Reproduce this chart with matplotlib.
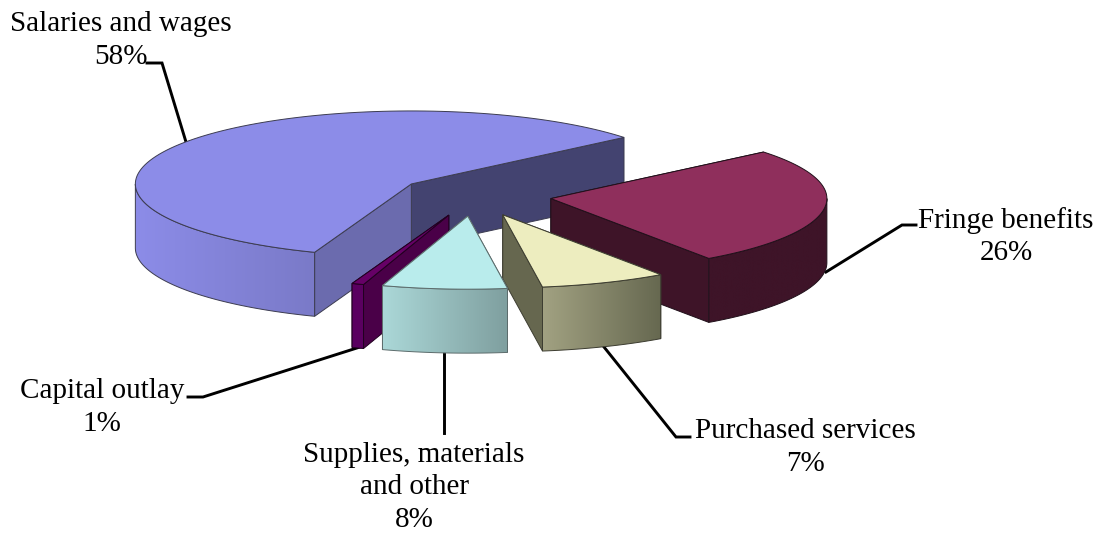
import numpy as np
import matplotlib
matplotlib.use('Agg')
import matplotlib.pyplot as plt
from matplotlib.colors import LinearSegmentedColormap
from matplotlib.patches import Polygon

plt.rcParams['font.family'] = ['Liberation Serif', 'DejaVu Serif']

# budget shares, counter clockwise from the back right corner
categories = ['Salaries and wages', 'Capital outlay', 'Supplies, materials\nand other',
              'Purchased services', 'Fringe benefits']
labels_pct = [58, 1, 8, 7, 26]
# slice sizes, the printed labels are rounded
shares = [58.3, 0.7, 7.3, 7.4, 26.3]

top_colors = ['#8c8ce8', '#660066', '#b9ecec', '#ededbf', '#8f2f5c']
wall_left = ['#8c8ce8', '#5a0060', '#abd8d8', '#a2a282', '#3e1428']
wall_right = ['#7a7ac8', '#5a0060', '#7f9f9f', '#666850', '#3e1428']
face_colors = ['#6b6bae', '#4a0048', '#7f9f9f', '#66674f', '#3e1428']
back_colors = ['#434370', '#4a0048', '#7f9f9f', '#66674f', '#3e1428']
wall_edges = ['#3c3c50', '#20001f', '#5c6c6c', '#3c3c30', '#20101a']

# pie geometry in pixels
cx, cy = 474.3, 195.8
rx, ry = 276, 73
depth = 64
explode = 0.28
start = 39.6


def rim(x0, y0, a1, a2, n=120):
    t = np.radians(np.linspace(a1, a2, n))
    return x0 + rx * np.cos(t), y0 - ry * np.sin(t)


def extrude(xs, ys):
    return np.column_stack([np.r_[xs, xs[::-1]], np.r_[ys, ys[::-1] + depth]])


fig = plt.figure(figsize=(11.07, 5.34), dpi=100)
ax = fig.add_axes([0, 0, 1, 1])
ax.axis('off')

bounds = start + np.r_[0, np.cumsum(shares)] * 3.6

# paint from back to front
for z, i in enumerate([0, 4, 3, 1, 2]):
    z = 10 + z
    a1, a2 = bounds[i], bounds[i + 1]
    mid = np.radians((a1 + a2) / 2)
    x0 = cx + explode * rx * np.cos(mid)
    y0 = cy - explode * ry * np.sin(mid)
    xs, ys = rim(x0, y0, a1, a2)

    # the two cut faces, further one first
    faces = [(xs[0], ys[0], back_colors[i]), (xs[-1], ys[-1], face_colors[i])]
    faces.sort(key=lambda f: f[1])
    for fx, fy, col in faces:
        ax.add_patch(Polygon(extrude(np.array([x0, fx]), np.array([y0, fy])),
                             facecolor=col, edgecolor=wall_edges[i], lw=0.7, zorder=z))

    # outer wall, only the part facing the viewer
    w1, w2 = max(a1, 180), min(a2, 360)
    wx, wy = rim(x0, y0, w1, w2)
    outline = Polygon(extrude(wx, wy), facecolor='none', edgecolor=wall_edges[i], lw=0.7, zorder=z + 0.2)
    ax.add_patch(outline)
    cmap = LinearSegmentedColormap.from_list('wall', [wall_left[i], wall_right[i]])
    grad = np.linspace(0, 1, 256).reshape(1, -1)
    im = ax.imshow(grad, cmap=cmap, aspect='auto', zorder=z + 0.1,
                   extent=[wx.min(), wx.max(), wy.max() + depth, wy.min()])
    im.set_clip_path(outline)

    # top surface
    ax.add_patch(Polygon(np.column_stack([np.r_[x0, xs], np.r_[y0, ys]]),
                         facecolor=top_colors[i], edgecolor=wall_edges[i], lw=0.7, zorder=z + 0.3))

ax.set_xlim(0, 1107)
ax.set_ylim(534, 0)

# labels with their elbow leader lines
label_x = [121, 102, 414, 805, 1006]
label_y = [40.5, 407.5, 487.5, 447.5, 236.5]
leader_x = [[147, 162, 186], [188, 203, 360], [444, 444], [690, 676, 604], [916, 902, 826]]
leader_y = [[63, 63, 142], [397, 397, 347], [351, 433], [437, 437, 347], [225, 225, 272]]

for i, name in enumerate(categories):
    ax.text(label_x[i], label_y[i], f'{name}\n{labels_pct[i]}%', ha='center', va='center',
            fontsize=21, linespacing=1.32, color='black', zorder=30)
    ax.plot(leader_x[i], leader_y[i], color='black', lw=2.1, solid_joinstyle='miter', zorder=5)

fig.savefig('out.png', dpi=100)
